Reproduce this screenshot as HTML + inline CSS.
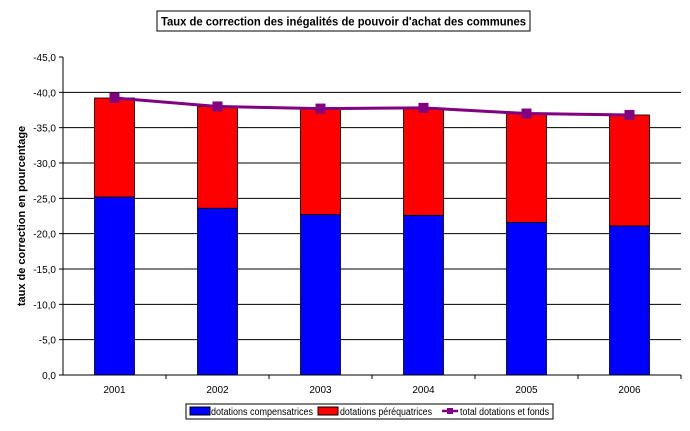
<!DOCTYPE html>
<html><head><meta charset="utf-8"><style>
body{margin:0;background:#fff;font-family:"Liberation Sans",Arial,sans-serif}
svg text{font-family:"Liberation Sans",Arial,sans-serif}
</style></head><body>
<svg id="c" width="690" height="426" viewBox="0 0 690 426">
<rect x="157" y="11" width="373" height="20" fill="#fff" stroke="#000"/>
<text x="161" y="25.5" font-size="12" font-weight="bold" textLength="365" lengthAdjust="spacingAndGlyphs">Taux de correction des inégalités de pouvoir d'achat des communes</text>
<text transform="translate(25,216) rotate(-90)" font-size="11" font-weight="bold" text-anchor="middle">taux de correction en pourcentage</text>
<g id="grid"></g><g id="bars"></g><g id="line"></g><g id="axes"></g>
<g>
<rect x="186" y="404" width="367" height="15" fill="#fff" stroke="#000"/>
<rect x="190" y="407" width="20" height="8" fill="#0000ff" stroke="#000"/>
<text x="211" y="415" font-size="10" textLength="102" lengthAdjust="spacingAndGlyphs">dotations compensatrices</text>
<rect x="318" y="407" width="20" height="8" fill="#ff0000" stroke="#000"/>
<text x="340" y="415" font-size="10" textLength="92" lengthAdjust="spacingAndGlyphs">dotations péréquatrices</text>
<line x1="442" y1="411" x2="458" y2="411" stroke="#800080" stroke-width="2.5"/>
<rect x="447" y="408" width="6" height="6" fill="#800080"/>
<text x="460" y="415" font-size="10" textLength="89" lengthAdjust="spacingAndGlyphs">total dotations et fonds</text>
</g>
</svg>
<script>
const categories=["2001","2002","2003","2004","2005","2006"];
const compensatrices=[-25.2,-23.6,-22.7,-22.6,-21.6,-21.1];
const totals=[-39.2,-38.0,-37.7,-37.8,-37.0,-36.8];
const yTicks=[0,-5,-10,-15,-20,-25,-30,-35,-40,-45];
const NS="http://www.w3.org/2000/svg";
const L=63,R=681,Y0=375,Y45=57;
function yy(v){return Y0-(-v/45)*(Y0-Y45);}
const bw=(R-L)/categories.length;
const xc=i=>L+bw*(i+0.5);
function mk(t,a,p){const e=document.createElementNS(NS,t);for(const k in a)e.setAttribute(k,a[k]);p.appendChild(e);return e;}
const grid=document.getElementById('grid'),bars=document.getElementById('bars'),line=document.getElementById('line'),axes=document.getElementById('axes');
yTicks.forEach(v=>{
  if(v!==0&&v!==-45){const g=mk('line',{x1:L,x2:R,y1:yy(v),y2:yy(v),stroke:'#000','stroke-width':1},grid);
  
  }
  mk('line',{x1:L-4,x2:L,y1:yy(v),y2:yy(v),stroke:'#000'},axes);
  const t=mk('text',{x:L-7,y:yy(v)+4,'font-size':10,'text-anchor':'end'},axes);
  t.textContent=v.toFixed(1).replace('.',',').replace('-0,0','0,0');
  
  
});
categories.forEach((c,i)=>{
  const x=xc(i)-20;
  const b=mk('rect',{x:x,y:yy(compensatrices[i]),width:40,height:Y0-yy(compensatrices[i]),fill:'#0000ff',stroke:'#000','stroke-width':0.8},bars);
  
  
  const r=mk('rect',{x:x,y:yy(totals[i]),width:40,height:yy(compensatrices[i])-yy(totals[i]),fill:'#ff0000',stroke:'#000','stroke-width':0.8},bars);
  
  
  mk('line',{x1:L+bw*(i+1),x2:L+bw*(i+1),y1:Y0,y2:Y0+4,stroke:'#000'},axes);
  const t=mk('text',{x:xc(i),y:Y0+18,'font-size':10,'text-anchor':'middle'},axes);
  t.textContent=c;
  
  
});
const pl=mk('polyline',{points:totals.map((v,i)=>xc(i)+','+yy(v)).join(' '),fill:'none',stroke:'#800080','stroke-width':3},line);


totals.forEach((v,i)=>{
  const m=mk('rect',{x:xc(i)-5,y:yy(v)-5,width:10,height:10,fill:'#800080'},line);
  
  
});
mk('line',{x1:L,x2:L,y1:Y45,y2:Y0,stroke:'#000'},axes);
mk('line',{x1:L,x2:R,y1:Y0,y2:Y0,stroke:'#000'},axes);
</script>
</body></html>
